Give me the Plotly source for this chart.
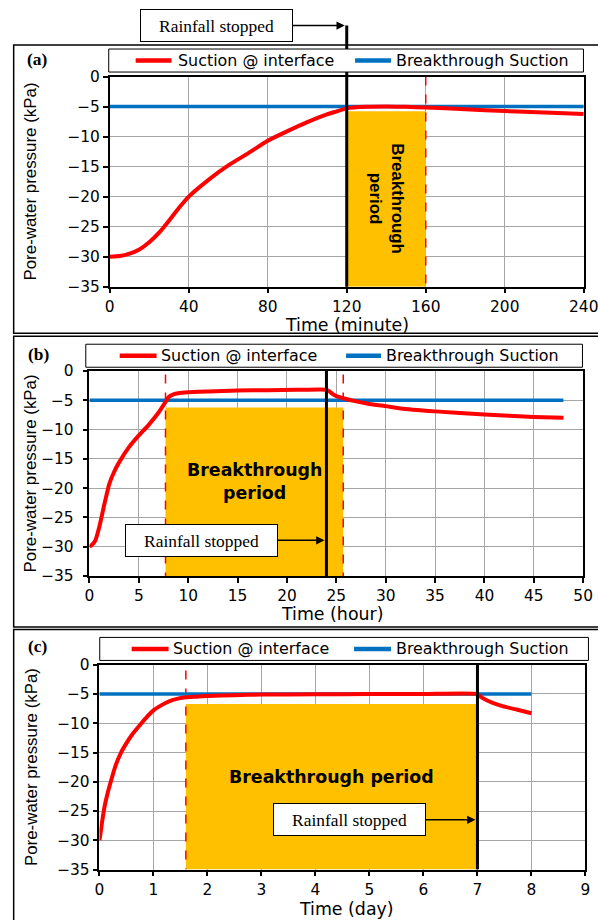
import plotly.graph_objects as go

# ---------------- data ----------------
# Panel (a): time in minutes
time_a = [0, 5, 10, 15, 20, 25, 30, 35, 40, 50, 60, 70, 80, 90, 100, 110, 115, 120,
          130, 140, 150, 160, 180, 200, 220, 240]
suction_a = [-30, -29.9, -29.5, -28.8, -27.6, -26, -24, -21.9, -20, -17.2, -14.8, -12.8,
             -10.7, -9.1, -7.6, -6.3, -5.8, -5.3, -5.05, -5.0, -5.05, -5.15, -5.45, -5.75,
             -6.0, -6.25]
bt_time_a = [0, 240]
bt_suction_a = [-5, -5]
period_a = [120, 160]
period_top_a = -5.8
rain_stop_a = 120

# Panel (b): time in hours
time_b = [0, 0.3, 0.6, 1.0, 1.5, 2.0, 2.5, 3.0, 4.0, 5.0, 6.0, 7.0, 7.7, 8.0, 8.5, 9.0,
          10, 12, 15, 18, 21, 24, 24.3, 24.6, 25.0, 25.8, 27, 28.2, 30, 31.5, 35, 40, 45, 48]
suction_b = [-30, -29.6, -28.9, -26.6, -22.8, -19.3, -17.2, -15.6, -13.0, -11.0, -9.2,
             -7.1, -5.3, -4.5, -4.0, -3.8, -3.65, -3.5, -3.35, -3.28, -3.22, -3.2, -3.5,
             -3.9, -4.3, -4.7, -5.2, -5.6, -6.0, -6.4, -6.9, -7.45, -7.85, -8.0]
bt_time_b = [0, 48]
bt_suction_b = [-5, -5]
period_b = [7.7, 25.7]
period_top_b = -6.25
rain_stop_b = 24

# Panel (c): time in days
time_c = [0, 0.02, 0.05, 0.1, 0.15, 0.2, 0.3, 0.4, 0.5, 0.6, 0.75, 0.9, 1.0, 1.15, 1.3,
          1.45, 1.6, 1.8, 2.0, 2.5, 3.0, 4.0, 5.0, 6.0, 7.0, 7.05, 7.18, 7.43, 7.74, 8.0]
suction_c = [-30, -28.8, -26.8, -24, -22, -20.3, -17.2, -15.0, -13.4, -12.0, -10.3, -8.7,
             -7.8, -6.9, -6.2, -5.8, -5.55, -5.45, -5.35, -5.2, -5.1, -5.05, -5.0, -5.0,
             -5.0, -5.4, -6.1, -7.0, -7.7, -8.3]
bt_time_c = [0, 8]
bt_suction_c = [-5, -5]
period_c = [1.6, 7.0]
period_top_c = -6.7
rain_stop_c = 7

y_range = [-35, 0]

# ---------------- layout geometry ----------------
# Positions below are given in target picture pixels (598 x 920) and mapped
# to the figure's paper coordinates (the picture shows the figure slightly shrunk).
SX, OXP = 0.97, 3.0
SY, OYP = 0.98, 9.0
W, H = 614, 930
S = (SX + SY) / 2


def fs(v):
    return round(v / S, 1)


def X(d):
    return ((d - OXP) / SX) / W


def Y(d):
    return 1 - ((d - OYP) / SY) / H


RED = "#FF0000"
BLUE = "#0070C0"
ORANGE = "#FFC000"
GRID = "#A6A6A6"
TICKFONT = dict(family="DejaVu Sans", size=fs(15), color="black")
TITLEFONT_X = dict(family="DejaVu Sans", size=fs(17), color="black")
TITLEFONT_Y = dict(family="Liberation Sans, Arial", size=fs(16.5), color="black")
LEGFONT = dict(family="DejaVu Sans", size=fs(15.5), color="black")
SERIF = "Liberation Serif, Times New Roman"

panels = [
    dict(t=time_a, v=suction_a, bt=bt_time_a, bv=bt_suction_a, per=period_a,
         top=period_top_a, stop=rain_stop_a, xr=[0, 240], dt=40,
         xpx=[108, 583.3], ypx=[76.5, 286.5], xtitle="Time (minute)", xt_xy=(345.7, 325),
         label="(a)", lab_xy=(35.5, 59),
         leg=dict(box=[107, 583, 49, 72], red=[134, 170], redtxt=174, blue=[354, 390], bluetxt=393),
         dash_top=0, box=[11.7, 45, 333]),
    dict(t=time_b, v=suction_b, bt=bt_time_b, bv=bt_suction_b, per=period_b,
         top=period_top_b, stop=rain_stop_b, xr=[0, 50], dt=5,
         xpx=[87.7, 582.7], ypx=[370.7, 575.7], xtitle="Time (hour)", xt_xy=(331, 614),
         label="(b)", lab_xy=(36.5, 353.5),
         leg=dict(box=[84, 582, 344, 367], red=[118, 155], redtxt=157, blue=[345, 380], bluetxt=383),
         dash_top=-0.6, box=[11.7, 336, 626.5]),
    dict(t=time_c, v=suction_c, bt=bt_time_c, bv=bt_suction_c, per=period_c,
         top=period_top_c, stop=rain_stop_c, xr=[0, 9], dt=1,
         xpx=[97.7, 585], ypx=[664.3, 869], xtitle="Time (day)", xt_xy=(345, 908),
         label="(c)", lab_xy=(36, 646),
         leg=dict(box=[98, 588, 637, 660], red=[130, 167], redtxt=169, blue=[353, 390], bluetxt=393),
         dash_top=-1.0, box=[11.7, 629, 922]),
]

fig = go.Figure()
shapes = []
annotations = []

for i, p in enumerate(panels):
    n = "" if i == 0 else str(i + 1)
    xa, ya = "x" + n, "y" + n
    x0, x1 = p["per"]
    # breakthrough period rectangle
    fig.add_trace(go.Scatter(x=[x0, x1, x1, x0, x0],
                             y=[y_range[0], y_range[0], p["top"], p["top"], y_range[0]],
                             fill="toself", fillcolor=ORANGE, mode="lines",
                             line=dict(width=0, color=ORANGE), xaxis=xa, yaxis=ya,
                             showlegend=False, hoverinfo="skip"))
    # red dashed boundaries
    for xv in p["per"]:
        fig.add_trace(go.Scatter(x=[xv, xv], y=[p["dash_top"], y_range[0]], mode="lines",
                                 line=dict(color=RED, width=1.5, dash="dash"),
                                 xaxis=xa, yaxis=ya, showlegend=False, hoverinfo="skip"))
    # breakthrough suction
    fig.add_trace(go.Scatter(x=p["bt"], y=p["bv"], mode="lines", name="Breakthrough Suction",
                             line=dict(color=BLUE, width=3.5), xaxis=xa, yaxis=ya, showlegend=False))
    # suction at interface
    fig.add_trace(go.Scatter(x=p["t"], y=p["v"], mode="lines", name="Suction @ interface",
                             line=dict(color=RED, width=4, shape="spline", smoothing=0.5),
                             xaxis=xa, yaxis=ya, showlegend=False))
    # rainfall stopped line
    if i == 0:
        shapes.append(dict(type="line", xref=xa, x0=p["stop"], x1=p["stop"], yref="paper",
                           y0=Y(p["ypx"][1]), y1=Y(25.5), line=dict(color="black", width=3)))
    else:
        fig.add_trace(go.Scatter(x=[p["stop"], p["stop"]], y=[0, y_range[0]], mode="lines",
                                 line=dict(color="black", width=3), xaxis=xa, yaxis=ya,
                                 showlegend=False, hoverinfo="skip"))

    # axes
    common = dict(showline=True, linecolor="black", linewidth=1.5, mirror=True,
                  showgrid=True, gridcolor=GRID, gridwidth=1, zeroline=False,
                  ticks="outside", ticklen=5, tickcolor="black", tickwidth=1.5,
                  tickfont=TICKFONT)
    fig.update_layout(**{
        ("xaxis" + n): dict(domain=[X(p["xpx"][0]), X(p["xpx"][1])], range=p["xr"],
                            dtick=p["dt"], tick0=0, anchor=ya, **common),
        ("yaxis" + n): dict(domain=[Y(p["ypx"][1]), Y(p["ypx"][0])], range=y_range,
                            dtick=5, tick0=0, anchor=xa,
                            ticklabelstandoff=(6 if i == 1 else 0), **common),
    })

    # outer panel frame (the right side lies outside the picture)
    bx = p["box"]
    shapes.append(dict(type="rect", xref="paper", yref="paper", x0=X(bx[0]), x1=X(612),
                       y0=Y(bx[2]), y1=Y(bx[1]), line=dict(color="black", width=1.5)))
    # legend box
    lg = p["leg"]
    lb = lg["box"]
    ymid = (lb[2] + lb[3]) / 2
    shapes.append(dict(type="rect", xref="paper", yref="paper", x0=X(lb[0]), x1=X(lb[1]),
                       y0=Y(lb[3]), y1=Y(lb[2]), line=dict(color="black", width=1),
                       fillcolor="white"))
    shapes.append(dict(type="line", xref="paper", yref="paper", x0=X(lg["red"][0]), x1=X(lg["red"][1]),
                       y0=Y(ymid), y1=Y(ymid), line=dict(color=RED, width=4.5)))
    shapes.append(dict(type="line", xref="paper", yref="paper", x0=X(lg["blue"][0]), x1=X(lg["blue"][1]),
                       y0=Y(ymid), y1=Y(ymid), line=dict(color=BLUE, width=4.5)))
    annotations.append(dict(text="Suction @ interface", xref="paper", yref="paper",
                            x=X(lg["redtxt"]), y=Y(ymid), xanchor="left", yanchor="middle",
                            showarrow=False, font=LEGFONT))
    annotations.append(dict(text="Breakthrough Suction", xref="paper", yref="paper",
                            x=X(lg["bluetxt"]), y=Y(ymid), xanchor="left", yanchor="middle",
                            showarrow=False, font=LEGFONT))
    # panel label
    annotations.append(dict(text="<b>%s</b>" % p["label"], xref="paper", yref="paper",
                            x=X(p["lab_xy"][0]), y=Y(p["lab_xy"][1]), xanchor="center",
                            yanchor="middle", showarrow=False,
                            font=dict(family=SERIF, size=fs(17), color="black")))
    # axis titles
    annotations.append(dict(text=p["xtitle"], xref="paper", yref="paper",
                            x=X(p["xt_xy"][0]), y=Y(p["xt_xy"][1]), xanchor="center",
                            yanchor="middle", showarrow=False, font=TITLEFONT_X))
    annotations.append(dict(text="Pore-water pressure (kPa)", xref="paper", yref="paper",
                            x=X(29), y=Y((p["ypx"][0] + p["ypx"][1]) / 2), xanchor="center",
                            yanchor="middle", textangle=-90, showarrow=False, font=TITLEFONT_Y))

# Breakthrough period labels
annotations.append(dict(text="<b>Breakthrough<br>period</b>", xref="x", yref="y",
                        x=sum(period_a) / 2, y=-20.3, textangle=90, showarrow=False,
                        font=dict(family="Liberation Sans, Arial", size=fs(16.5), color="black")))
annotations.append(dict(text="<b>Breakthrough<br>period</b>", xref="x2", yref="y2",
                        x=sum(period_b) / 2, y=-18.9, showarrow=False,
                        font=dict(family="DejaVu Sans", size=fs(17), color="black")))
annotations.append(dict(text="<b>Breakthrough period</b>", xref="x3", yref="y3",
                        x=sum(period_c) / 2, y=-19.1, showarrow=False,
                        font=dict(family="DejaVu Sans", size=fs(17), color="black")))

# Rainfall stopped callouts
rain_font = dict(family=SERIF, size=fs(17), color="black")
callout = dict(showarrow=True, arrowhead=2, arrowsize=1.1, arrowwidth=1.5, arrowcolor="black",
               standoff=2, bordercolor="black", borderwidth=1, borderpad=2, bgcolor="white",
               width=round(143 / SX), height=round(26 / SY), font=rain_font,
               text="Rainfall stopped", ayref="pixel", axref="pixel", ay=0)
annotations.append(dict(xref="x", yref="paper", x=rain_stop_a, y=Y(25.5), ax=-126 / SX, **callout))
annotations.append(dict(xref="x2", yref="y2", x=rain_stop_b, y=-28.9, ax=-121 / SX, **callout))
annotations.append(dict(xref="x3", yref="y3", x=rain_stop_c, y=-26.5, ax=-124 / SX, **callout))

fig.update_layout(width=W, height=H, margin=dict(l=0, r=0, t=0, b=0),
                  paper_bgcolor="white", plot_bgcolor="white", showlegend=False,
                  shapes=shapes, annotations=annotations)

fig.write_html("out.html")
